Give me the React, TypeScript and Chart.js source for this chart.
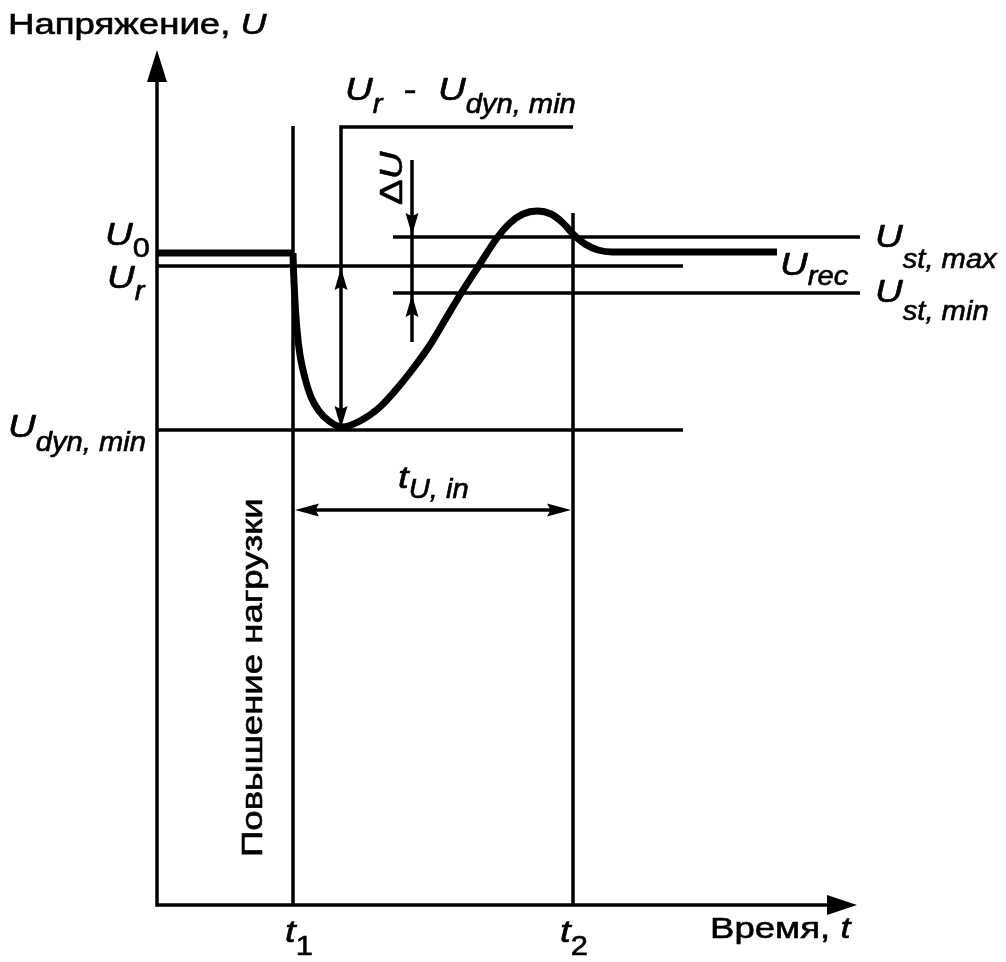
import React, { useEffect, useRef } from "react";
import { Chart, registerables } from "chart.js";

Chart.register(...registerables);

// ---- Diagram units: time t (x) and voltage U (y), 1 unit = 10 px ----
const T_RANGE = [-15.7, 84.9];
const U_RANGE = [-5.7, 90.5];

const AXIS_T_END = 70.0;
const AXIS_U_END = 85.5;

const T1 = 13.6;
const T2 = 41.6;
const T1_TOP = 77.9;
const T2_TOP = 69.2;

const U0 = 65.2;
const U_R = 63.9;
const U_DYN_MIN = 47.5;
const U_ST_MAX = 66.8;
const U_ST_MIN = 61.2;

const REF_LINE_END = 52.6;
const ST_LINE_RANGE = [23.6, 70.3];
const BRACKET_T = 18.4;
const BRACKET_TOP = 77.8;
const DELTA_T = 25.5;
const DELTA_RANGE = [56.3, 74.5];
const T_IN_LEVEL = 39.5;

// transient response after the load step at t1
const transientT = [13.6, 13.65, 13.7, 13.8, 14.0, 14.3, 14.8, 15.4, 16.2, 17.2, 18.5, 20.3, 22.3, 24.3, 25.8, 27.3, 28.8, 30.3, 32.1, 34.0, 35.3, 36.6, 38.0, 39.4, 40.6, 41.6, 42.8, 44.1, 45.5, 62.0];
const transientU = [65.2, 63.5, 62.3, 60.3, 57.5, 55.0, 52.7, 50.8, 49.4, 48.4, 47.8, 48.4, 49.8, 52.0, 53.9, 56.0, 58.5, 61.0, 63.8, 66.7, 68.2, 69.1, 69.4, 69.1, 68.2, 67.1, 66.1, 65.5, 65.3, 65.3];

const SX: Record<string, number> = { plain: 1.22, math: 1.2, mathPlain: 1.2, sub: 1.08, subDigit: 1.1, tmath: 1.2 };
const FONTS: Record<string, string> = {
  plain: '30px "Liberation Sans", Arial, sans-serif',
  math: 'italic 32px "Liberation Sans", Arial, sans-serif',
  mathPlain: '32px "Liberation Sans", Arial, sans-serif',
  sub: 'italic 27px "Liberation Sans", Arial, sans-serif',
  subDigit: '28px "Liberation Sans", Arial, sans-serif',
  tmath: 'italic 30px "Liberation Sans", Arial, sans-serif',
};

type Part = [string, string];
type Label = { t: number; u: number; parts: Part[]; subDy?: number; rot?: number };

const labels: Label[] = [
  { t: -14.9, u: 87.1, parts: [["Напряжение, ", "plain"], ["U", "tmath"]] },
  { t: -5.2, u: 66.0, parts: [["U", "math"], ["0", "subDigit"]], subDy: 12 },
  { t: -5.0, u: 61.7, parts: [["U", "math"], ["r", "sub"]], subDy: 12 },
  { t: -14.9, u: 46.8, parts: [["U", "math"], ["dyn, min", "sub"]], subDy: 14 },
  { t: 18.8, u: 80.5, parts: [["U", "math"], ["r", "sub"], ["  -  ", "mathPlain"], ["U", "math"], ["dyn, min", "sub"]], subDy: 13 },
  { t: 24.5, u: 70.0, parts: [["Δ", "mathPlain"], ["U", "math"]], rot: -Math.PI / 2 },
  { t: 71.8, u: 65.8, parts: [["U", "math"], ["st, max", "sub"]], subDy: 21 },
  { t: 71.8, u: 60.3, parts: [["U", "math"], ["st, min", "sub"]], subDy: 18 },
  { t: 62.3, u: 63.0, parts: [["U", "math"], ["rec", "sub"]], subDy: 10 },
  { t: 24.1, u: 41.7, parts: [["t", "math"], ["U, in", "sub"]], subDy: 10 },
  { t: 10.5, u: 4.8, parts: [["Повышение нагрузки", "plain"]], rot: -Math.PI / 2 },
  { t: 12.8, u: -3.7, parts: [["t", "math"], ["1", "subDigit"]], subDy: 13 },
  { t: 40.3, u: -3.7, parts: [["t", "math"], ["2", "subDigit"]], subDy: 13 },
  { t: 55.3, u: -3.3, parts: [["Время, ", "plain"], ["t", "tmath"]] },
];

type Arrow = { t: number; u: number; dir: string; len: number; w: number; notch: number };
const arrows: Arrow[] = [
  { t: 0, u: AXIS_U_END, dir: "up", len: 32, w: 20, notch: 1 },
  { t: AXIS_T_END, u: 0, dir: "right", len: 30, w: 20, notch: 1 },
  { t: BRACKET_T, u: U_R - 0.2, dir: "up", len: 22, w: 13, notch: 0.85 },
  { t: BRACKET_T, u: U_DYN_MIN + 0.2, dir: "down", len: 22, w: 13, notch: 0.85 },
  { t: DELTA_T, u: U_ST_MAX + 0.2, dir: "down", len: 22, w: 13, notch: 0.85 },
  { t: DELTA_T, u: U_ST_MIN - 0.2, dir: "up", len: 22, w: 13, notch: 0.85 },
  { t: T1 + 0.2, u: T_IN_LEVEL, dir: "left", len: 24, w: 13, notch: 0.85 },
  { t: T2 - 0.2, u: T_IN_LEVEL, dir: "right", len: 24, w: 13, notch: 0.85 },
];

const ANG: Record<string, number> = { up: -Math.PI / 2, down: Math.PI / 2, left: Math.PI, right: 0 };

const overlayPlugin = {
  id: "overlay",
  afterDatasetsDraw(chart: any) {
    const ctx = chart.ctx as CanvasRenderingContext2D;
    const xs = chart.scales.x;
    const ys = chart.scales.y;
    ctx.save();
    ctx.fillStyle = "#000";
    ctx.strokeStyle = "#000";
    for (const a of arrows) {
      const px = xs.getPixelForValue(a.t);
      const py = ys.getPixelForValue(a.u);
      ctx.save();
      ctx.translate(px, py);
      ctx.rotate(ANG[a.dir]);
      ctx.beginPath();
      ctx.moveTo(0, 0);
      ctx.lineTo(-a.len, -a.w / 2);
      ctx.lineTo(-a.len * a.notch, 0);
      ctx.lineTo(-a.len, a.w / 2);
      ctx.closePath();
      ctx.fill();
      ctx.restore();
    }
    ctx.textAlign = "left";
    ctx.textBaseline = "alphabetic";
    ctx.lineWidth = 0.6;
    for (const l of labels) {
      const px = xs.getPixelForValue(l.t);
      const py = ys.getPixelForValue(l.u);
      ctx.save();
      ctx.translate(px, py);
      if (l.rot) ctx.rotate(l.rot);
      let cx = 0;
      for (const [text, role] of l.parts) {
        ctx.font = FONTS[role];
        const isSub = role === "sub" || role === "subDigit";
        const dy = isSub ? l.subDy || 0 : 0;
        const s = SX[role];
        ctx.save();
        ctx.translate(cx, dy);
        ctx.scale(s, 1);
        ctx.fillText(text, 0, 0);
        ctx.strokeText(text, 0, 0);
        ctx.restore();
        cx += ctx.measureText(text).width * s;
      }
      ctx.restore();
    }
    ctx.restore();
  },
};

function line(points: { x: number; y: number }[], width: number, extra: any = {}) {
  return {
    data: points,
    showLine: true,
    borderColor: "#000",
    backgroundColor: "#000",
    borderWidth: width,
    pointRadius: 0,
    pointHoverRadius: 0,
    fill: false,
    clip: false,
    borderJoinStyle: "miter",
    ...extra,
  };
}

export default function App() {
  const ref = useRef<HTMLCanvasElement | null>(null);
  useEffect(() => {
    if (!ref.current) return;
    const thin = 3.5;
    const curve = transientT.map((t, i) => ({ x: t, y: transientU[i] }));
    const chart = new Chart(ref.current, {
      type: "scatter",
      data: {
        datasets: [
          line([{ x: 0, y: AXIS_U_END - 1 }, { x: 0, y: 0 }, { x: AXIS_T_END - 1, y: 0 }], thin),
          line([{ x: T1, y: 0 }, { x: T1, y: T1_TOP }], thin),
          line([{ x: T2, y: 0 }, { x: T2, y: T2_TOP }], thin),
          line([{ x: 0, y: U_R }, { x: REF_LINE_END, y: U_R }], thin),
          line([{ x: 0, y: U_DYN_MIN }, { x: REF_LINE_END, y: U_DYN_MIN }], thin),
          line([{ x: ST_LINE_RANGE[0], y: U_ST_MAX }, { x: ST_LINE_RANGE[1], y: U_ST_MAX }], thin),
          line([{ x: ST_LINE_RANGE[0], y: U_ST_MIN }, { x: ST_LINE_RANGE[1], y: U_ST_MIN }], thin),
          line([{ x: BRACKET_T, y: U_DYN_MIN + 1 }, { x: BRACKET_T, y: BRACKET_TOP }, { x: T2, y: BRACKET_TOP }], thin),
          line([{ x: DELTA_T, y: DELTA_RANGE[1] }, { x: DELTA_T, y: DELTA_RANGE[0] }], thin),
          line([{ x: T1 + 1, y: T_IN_LEVEL }, { x: T2 - 1, y: T_IN_LEVEL }], thin),
          line([{ x: 0, y: U0 }, { x: T1 + 0.03, y: U0 }], 7),
          line(curve, 7, { cubicInterpolationMode: "monotone" }),
        ],
      },
      options: {
        animation: false,
        responsive: false,
        events: [],
        layout: { padding: 0 },
        plugins: { legend: { display: false }, tooltip: { enabled: false }, title: { display: false } },
        scales: {
          x: { type: "linear", display: false, min: T_RANGE[0], max: T_RANGE[1] },
          y: { type: "linear", display: false, min: U_RANGE[0], max: U_RANGE[1] },
        },
      },
      plugins: [overlayPlugin],
    });
    return () => chart.destroy();
  }, []);
  return (
    <div style={{ position: "absolute", left: 0, top: 0, width: 1006, height: 962, background: "#fff" }}>
      <canvas ref={ref} width={1006} height={962} style={{ display: "block" }} />
    </div>
  );
}
